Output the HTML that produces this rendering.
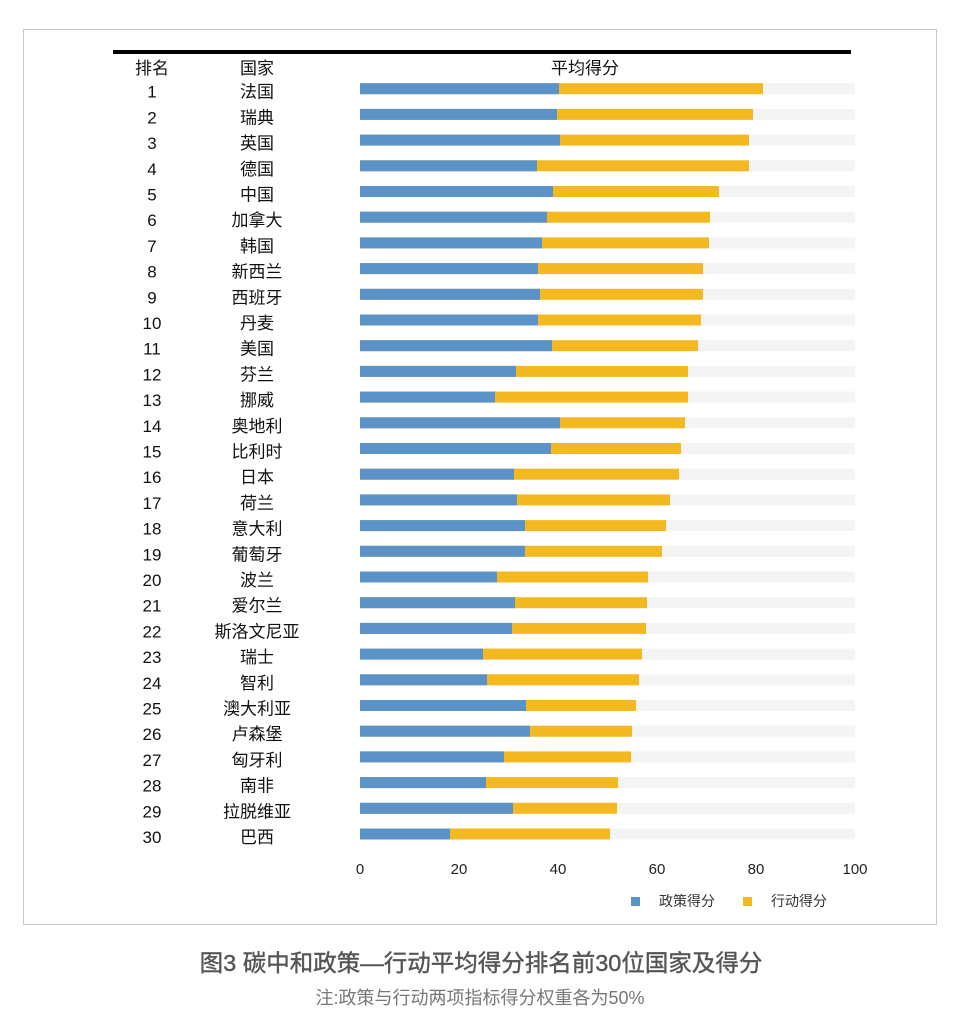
<!DOCTYPE html>
<html><head><meta charset="utf-8"><style>
body{margin:0;background:#fff;}
svg text{font-family:"Liberation Sans","Noto Sans CJK SC",sans-serif;}
.g{fill:#f4f4f4}.o{fill:#f4b920}.b{fill:#5b93c9}
.t{font-size:17px;fill:#111;text-anchor:middle}
</style></head><body>
<svg width="960" height="1024" xmlns="http://www.w3.org/2000/svg">
<rect x="23.5" y="29.5" width="913" height="895" fill="#fff" stroke="#c8c8c8" stroke-width="1"/>
<rect x="113" y="50" width="738" height="4" fill="#000"/>
<text class="t" x="152" y="74">排名</text><text class="t" x="257" y="74">国家</text><text class="t" x="585" y="74">平均得分</text>

<g transform="translate(0,88.7)"><rect class="g" x="360" y="-5.5" width="495" height="11"/><rect class="o" x="360" y="-5.5" width="403" height="11"/><rect class="b" x="360" y="-5.5" width="199" height="11"/><text class="t" x="152" y="9">1</text><text class="t" x="257" y="9">法国</text></g>
<g transform="translate(0,114.4)"><rect class="g" x="360" y="-5.5" width="495" height="11"/><rect class="o" x="360" y="-5.5" width="393" height="11"/><rect class="b" x="360" y="-5.5" width="197" height="11"/><text class="t" x="152" y="9">2</text><text class="t" x="257" y="9">瑞典</text></g>
<g transform="translate(0,140.1)"><rect class="g" x="360" y="-5.5" width="495" height="11"/><rect class="o" x="360" y="-5.5" width="389" height="11"/><rect class="b" x="360" y="-5.5" width="200" height="11"/><text class="t" x="152" y="9">3</text><text class="t" x="257" y="9">英国</text></g>
<g transform="translate(0,165.8)"><rect class="g" x="360" y="-5.5" width="495" height="11"/><rect class="o" x="360" y="-5.5" width="389" height="11"/><rect class="b" x="360" y="-5.5" width="177" height="11"/><text class="t" x="152" y="9">4</text><text class="t" x="257" y="9">德国</text></g>
<g transform="translate(0,191.5)"><rect class="g" x="360" y="-5.5" width="495" height="11"/><rect class="o" x="360" y="-5.5" width="359" height="11"/><rect class="b" x="360" y="-5.5" width="193" height="11"/><text class="t" x="152" y="9">5</text><text class="t" x="257" y="9">中国</text></g>
<g transform="translate(0,217.2)"><rect class="g" x="360" y="-5.5" width="495" height="11"/><rect class="o" x="360" y="-5.5" width="350" height="11"/><rect class="b" x="360" y="-5.5" width="187" height="11"/><text class="t" x="152" y="9">6</text><text class="t" x="257" y="9">加拿大</text></g>
<g transform="translate(0,242.9)"><rect class="g" x="360" y="-5.5" width="495" height="11"/><rect class="o" x="360" y="-5.5" width="349" height="11"/><rect class="b" x="360" y="-5.5" width="182" height="11"/><text class="t" x="152" y="9">7</text><text class="t" x="257" y="9">韩国</text></g>
<g transform="translate(0,268.6)"><rect class="g" x="360" y="-5.5" width="495" height="11"/><rect class="o" x="360" y="-5.5" width="343" height="11"/><rect class="b" x="360" y="-5.5" width="178" height="11"/><text class="t" x="152" y="9">8</text><text class="t" x="257" y="9">新西兰</text></g>
<g transform="translate(0,294.3)"><rect class="g" x="360" y="-5.5" width="495" height="11"/><rect class="o" x="360" y="-5.5" width="343" height="11"/><rect class="b" x="360" y="-5.5" width="180" height="11"/><text class="t" x="152" y="9">9</text><text class="t" x="257" y="9">西班牙</text></g>
<g transform="translate(0,320.0)"><rect class="g" x="360" y="-5.5" width="495" height="11"/><rect class="o" x="360" y="-5.5" width="341" height="11"/><rect class="b" x="360" y="-5.5" width="178" height="11"/><text class="t" x="152" y="9">10</text><text class="t" x="257" y="9">丹麦</text></g>
<g transform="translate(0,345.7)"><rect class="g" x="360" y="-5.5" width="495" height="11"/><rect class="o" x="360" y="-5.5" width="338" height="11"/><rect class="b" x="360" y="-5.5" width="192" height="11"/><text class="t" x="152" y="9">11</text><text class="t" x="257" y="9">美国</text></g>
<g transform="translate(0,371.4)"><rect class="g" x="360" y="-5.5" width="495" height="11"/><rect class="o" x="360" y="-5.5" width="328" height="11"/><rect class="b" x="360" y="-5.5" width="156" height="11"/><text class="t" x="152" y="9">12</text><text class="t" x="257" y="9">芬兰</text></g>
<g transform="translate(0,397.1)"><rect class="g" x="360" y="-5.5" width="495" height="11"/><rect class="o" x="360" y="-5.5" width="328" height="11"/><rect class="b" x="360" y="-5.5" width="135" height="11"/><text class="t" x="152" y="9">13</text><text class="t" x="257" y="9">挪威</text></g>
<g transform="translate(0,422.8)"><rect class="g" x="360" y="-5.5" width="495" height="11"/><rect class="o" x="360" y="-5.5" width="325" height="11"/><rect class="b" x="360" y="-5.5" width="200" height="11"/><text class="t" x="152" y="9">14</text><text class="t" x="257" y="9">奥地利</text></g>
<g transform="translate(0,448.5)"><rect class="g" x="360" y="-5.5" width="495" height="11"/><rect class="o" x="360" y="-5.5" width="321" height="11"/><rect class="b" x="360" y="-5.5" width="191" height="11"/><text class="t" x="152" y="9">15</text><text class="t" x="257" y="9">比利时</text></g>
<g transform="translate(0,474.2)"><rect class="g" x="360" y="-5.5" width="495" height="11"/><rect class="o" x="360" y="-5.5" width="319" height="11"/><rect class="b" x="360" y="-5.5" width="154" height="11"/><text class="t" x="152" y="9">16</text><text class="t" x="257" y="9">日本</text></g>
<g transform="translate(0,499.9)"><rect class="g" x="360" y="-5.5" width="495" height="11"/><rect class="o" x="360" y="-5.5" width="310" height="11"/><rect class="b" x="360" y="-5.5" width="157" height="11"/><text class="t" x="152" y="9">17</text><text class="t" x="257" y="9">荷兰</text></g>
<g transform="translate(0,525.6)"><rect class="g" x="360" y="-5.5" width="495" height="11"/><rect class="o" x="360" y="-5.5" width="306" height="11"/><rect class="b" x="360" y="-5.5" width="165" height="11"/><text class="t" x="152" y="9">18</text><text class="t" x="257" y="9">意大利</text></g>
<g transform="translate(0,551.3)"><rect class="g" x="360" y="-5.5" width="495" height="11"/><rect class="o" x="360" y="-5.5" width="302" height="11"/><rect class="b" x="360" y="-5.5" width="165" height="11"/><text class="t" x="152" y="9">19</text><text class="t" x="257" y="9">葡萄牙</text></g>
<g transform="translate(0,577.0)"><rect class="g" x="360" y="-5.5" width="495" height="11"/><rect class="o" x="360" y="-5.5" width="288" height="11"/><rect class="b" x="360" y="-5.5" width="137" height="11"/><text class="t" x="152" y="9">20</text><text class="t" x="257" y="9">波兰</text></g>
<g transform="translate(0,602.7)"><rect class="g" x="360" y="-5.5" width="495" height="11"/><rect class="o" x="360" y="-5.5" width="287" height="11"/><rect class="b" x="360" y="-5.5" width="155" height="11"/><text class="t" x="152" y="9">21</text><text class="t" x="257" y="9">爱尔兰</text></g>
<g transform="translate(0,628.4)"><rect class="g" x="360" y="-5.5" width="495" height="11"/><rect class="o" x="360" y="-5.5" width="286" height="11"/><rect class="b" x="360" y="-5.5" width="152" height="11"/><text class="t" x="152" y="9">22</text><text class="t" x="257" y="9">斯洛文尼亚</text></g>
<g transform="translate(0,654.1)"><rect class="g" x="360" y="-5.5" width="495" height="11"/><rect class="o" x="360" y="-5.5" width="282" height="11"/><rect class="b" x="360" y="-5.5" width="123" height="11"/><text class="t" x="152" y="9">23</text><text class="t" x="257" y="9">瑞士</text></g>
<g transform="translate(0,679.8)"><rect class="g" x="360" y="-5.5" width="495" height="11"/><rect class="o" x="360" y="-5.5" width="279" height="11"/><rect class="b" x="360" y="-5.5" width="127" height="11"/><text class="t" x="152" y="9">24</text><text class="t" x="257" y="9">智利</text></g>
<g transform="translate(0,705.5)"><rect class="g" x="360" y="-5.5" width="495" height="11"/><rect class="o" x="360" y="-5.5" width="276" height="11"/><rect class="b" x="360" y="-5.5" width="166" height="11"/><text class="t" x="152" y="9">25</text><text class="t" x="257" y="9">澳大利亚</text></g>
<g transform="translate(0,731.2)"><rect class="g" x="360" y="-5.5" width="495" height="11"/><rect class="o" x="360" y="-5.5" width="272" height="11"/><rect class="b" x="360" y="-5.5" width="170" height="11"/><text class="t" x="152" y="9">26</text><text class="t" x="257" y="9">卢森堡</text></g>
<g transform="translate(0,756.9)"><rect class="g" x="360" y="-5.5" width="495" height="11"/><rect class="o" x="360" y="-5.5" width="271" height="11"/><rect class="b" x="360" y="-5.5" width="144" height="11"/><text class="t" x="152" y="9">27</text><text class="t" x="257" y="9">匈牙利</text></g>
<g transform="translate(0,782.6)"><rect class="g" x="360" y="-5.5" width="495" height="11"/><rect class="o" x="360" y="-5.5" width="258" height="11"/><rect class="b" x="360" y="-5.5" width="126" height="11"/><text class="t" x="152" y="9">28</text><text class="t" x="257" y="9">南非</text></g>
<g transform="translate(0,808.3)"><rect class="g" x="360" y="-5.5" width="495" height="11"/><rect class="o" x="360" y="-5.5" width="257" height="11"/><rect class="b" x="360" y="-5.5" width="153" height="11"/><text class="t" x="152" y="9">29</text><text class="t" x="257" y="9">拉脱维亚</text></g>
<g transform="translate(0,834.0)"><rect class="g" x="360" y="-5.5" width="495" height="11"/><rect class="o" x="360" y="-5.5" width="250" height="11"/><rect class="b" x="360" y="-5.5" width="90" height="11"/><text class="t" x="152" y="9">30</text><text class="t" x="257" y="9">巴西</text></g>

<g font-size="15" fill="#222" text-anchor="middle">
<text x="360" y="874">0</text><text x="459" y="874">20</text><text x="558" y="874">40</text><text x="657" y="874">60</text><text x="756" y="874">80</text><text x="855" y="874">100</text>
</g>
<rect x="631" y="897" width="9" height="9" fill="#5b93c9"/>
<text x="659" y="906" font-size="14" fill="#333">政策得分</text>
<rect x="743" y="897" width="9" height="9" fill="#f4b920"/>
<text x="771" y="906" font-size="14" fill="#333">行动得分</text>
<text x="481" y="971" font-size="23.5" fill="#555" stroke="#555" stroke-width="0.4" text-anchor="middle">图3 碳中和政策—行动平均得分排名前30位国家及得分</text>
<text x="480" y="1004" font-size="18" fill="#777" text-anchor="middle">注:政策与行动两项指标得分权重各为50%</text>
</svg>
</body></html>
